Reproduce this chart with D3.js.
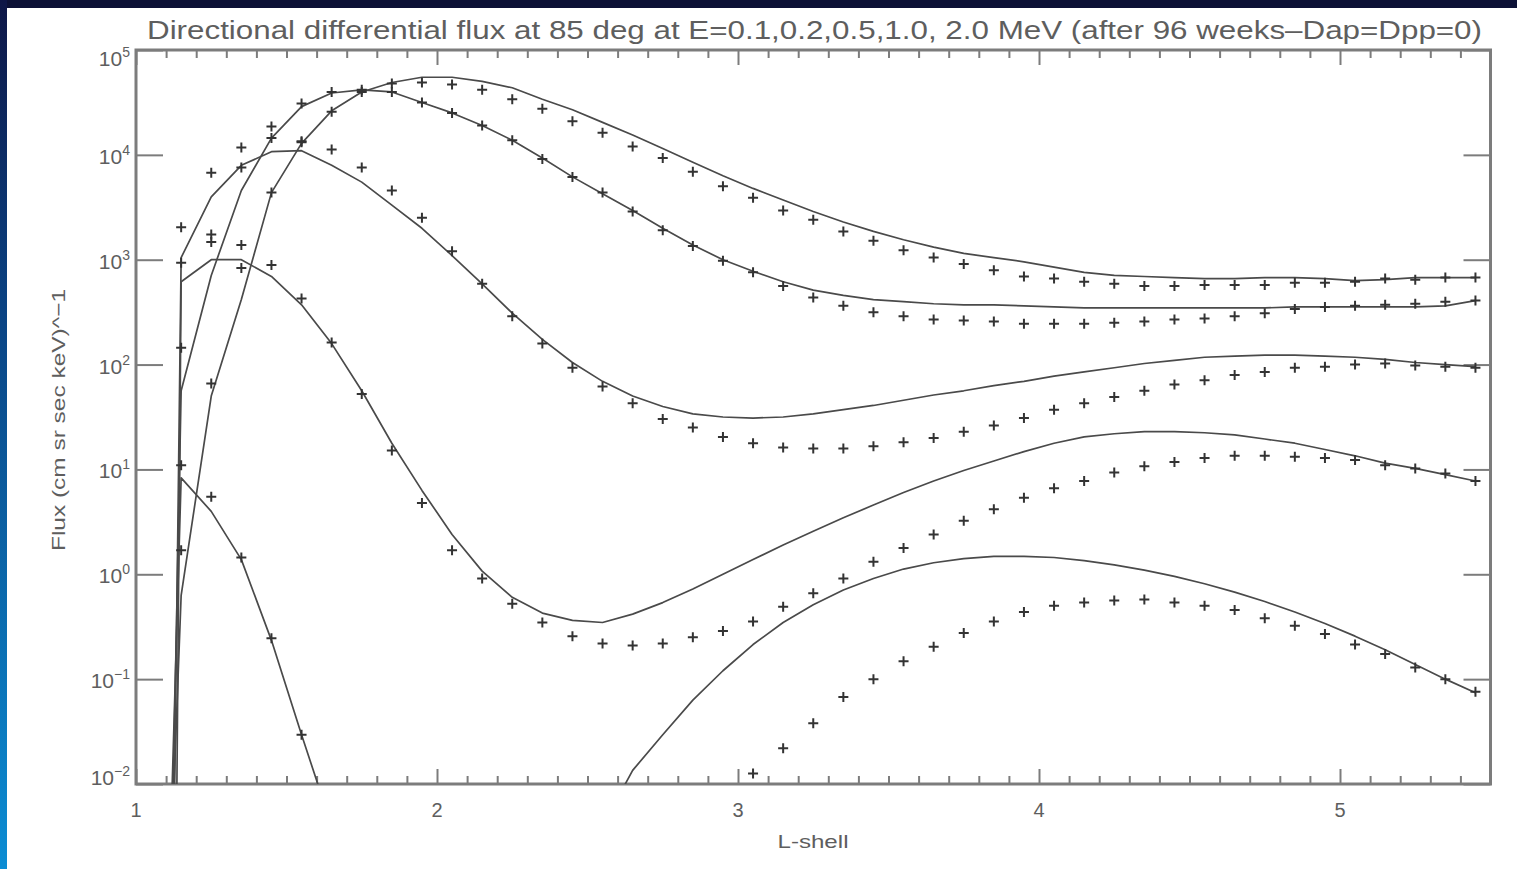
<!DOCTYPE html>
<html>
<head>
<meta charset="utf-8">
<script src="https://cdn.jsdelivr.net/npm/d3@7"></script>
<style>
  html, body { margin: 0; padding: 0; background: #0c1136; }
  svg { display: block; }
</style>
</head>
<body>
<svg id="chart" width="1517" height="869"></svg>
<script>
// L-shell values where the points (and model grid) sit
const lShell = [1.15, 1.25, 1.35, 1.45, 1.55, 1.65, 1.75, 1.85, 1.95, 2.05,
  2.15, 2.25, 2.35, 2.45, 2.55, 2.65, 2.75, 2.85, 2.95, 3.05,
  3.15, 3.25, 3.35, 3.45, 3.55, 3.65, 3.75, 3.85, 3.95, 4.05,
  4.15, 4.25, 4.35, 4.45, 4.55, 4.65, 4.75, 4.85, 4.95, 5.05,
  5.15, 5.25, 5.35, 5.45];

const energies = ['0.1 MeV', '0.2 MeV', '0.5 MeV', '1.0 MeV', '2.0 MeV'];

// model curves, log10 of flux (null = far below the axis)
const model01 = [1.75, 2.85, 3.66, 4.16, 4.46, 4.59, 4.62, 4.60, 4.50, 4.40,
  4.28, 4.14, 3.97, 3.79, 3.63, 3.47, 3.30, 3.14, 3.00, 2.89,
  2.79, 2.71, 2.66, 2.62, 2.60, 2.58, 2.57, 2.57, 2.56, 2.55,
  2.54, 2.54, 2.54, 2.54, 2.54, 2.54, 2.54, 2.55, 2.55, 2.55,
  2.55, 2.55, 2.56, 2.61];
const model02 = [-0.20, 1.70, 2.62, 3.64, 4.11, 4.42, 4.60, 4.69, 4.74, 4.74,
  4.70, 4.64, 4.53, 4.43, 4.31, 4.19, 4.06, 3.93, 3.80, 3.68,
  3.57, 3.46, 3.36, 3.27, 3.19, 3.12, 3.06, 3.02, 2.98, 2.93,
  2.88, 2.85, 2.84, 2.83, 2.82, 2.82, 2.83, 2.83, 2.82, 2.80,
  2.81, 2.83, 2.83, 2.83];
const model05 = [3.02, 3.60, 3.90, 4.03, 4.04, 3.90, 3.74, 3.52, 3.30, 3.04,
  2.77, 2.49, 2.24, 2.02, 1.84, 1.70, 1.60, 1.53, 1.50, 1.49,
  1.50, 1.53, 1.57, 1.61, 1.66, 1.71, 1.75, 1.80, 1.84, 1.89,
  1.93, 1.97, 2.01, 2.04, 2.07, 2.08, 2.09, 2.09, 2.08, 2.07,
  2.05, 2.02, 2.00, 1.98];
const model10 = [2.79, 3.00, 3.00, 2.84, 2.57, 2.20, 1.75, 1.25, 0.80, 0.38,
  0.03, -0.22, -0.37, -0.44, -0.46, -0.38, -0.27, -0.14, 0.00, 0.14,
  0.28, 0.41, 0.54, 0.66, 0.78, 0.89, 0.99, 1.08, 1.17, 1.25,
  1.31, 1.34, 1.36, 1.36, 1.35, 1.33, 1.29, 1.25, 1.19, 1.13,
  1.06, 1.01, 0.95, 0.89];
const model20 = [0.92, 0.60, 0.14, -0.63, -1.53, -2.40, null, null, null, null,
  null, null, null, null, -2.40, -1.87, -1.53, -1.20, -0.92, -0.67,
  -0.46, -0.29, -0.15, -0.04, 0.05, 0.11, 0.15, 0.17, 0.17, 0.16,
  0.13, 0.09, 0.04, -0.02, -0.09, -0.17, -0.26, -0.36, -0.47, -0.59,
  -0.72, -0.86, -1.00, -1.13];

// where each model curve leaves the bottom of the grid (log10 flux, off scale)
const modelStartL = [1.11, 1.10, 1.12, 1.13, 1.10];
const modelStartLog = [-4, -4, -4, -4, -4];

// plotted '+' points, log10 of flux
const points01 = [2.16, 3.24, 3.88, 4.16, 4.49, 4.60, 4.62, 4.60, 4.50, 4.40,
  4.28, 4.14, 3.96, 3.79, 3.64, 3.46, 3.28, 3.13, 2.99, 2.88,
  2.75, 2.64, 2.56, 2.50, 2.46, 2.43, 2.42, 2.41, 2.39, 2.39,
  2.39, 2.40, 2.41, 2.43, 2.44, 2.46, 2.49, 2.53, 2.55, 2.56,
  2.57, 2.58, 2.60, 2.61];
const points02 = [0.23, 1.82, 3.14, 3.64, 4.13, 4.41, 4.60, 4.68, 4.69, 4.67,
  4.62, 4.53, 4.44, 4.32, 4.21, 4.08, 3.97, 3.84, 3.70, 3.59,
  3.47, 3.38, 3.27, 3.18, 3.09, 3.02, 2.96, 2.90, 2.84, 2.82,
  2.79, 2.77, 2.75, 2.75, 2.76, 2.76, 2.76, 2.78, 2.78, 2.79,
  2.82, 2.81, 2.83, 2.83];
const points05 = [3.31, 3.83, 4.07, 4.27, 4.12, 4.05, 3.88, 3.66, 3.40, 3.08,
  2.77, 2.46, 2.20, 1.97, 1.79, 1.63, 1.48, 1.40, 1.31, 1.25,
  1.21, 1.20, 1.20, 1.22, 1.26, 1.30, 1.36, 1.42, 1.49, 1.57,
  1.63, 1.69, 1.75, 1.81, 1.85, 1.90, 1.93, 1.97, 1.98, 2.00,
  2.01, 1.99, 1.98, 1.97];
const points10 = [2.97, 3.17, 2.92, 2.95, 2.63, 2.21, 1.72, 1.18, 0.68, 0.23,
  -0.04, -0.28, -0.46, -0.59, -0.66, -0.68, -0.66, -0.60, -0.54, -0.45,
  -0.31, -0.18, -0.04, 0.12, 0.25, 0.38, 0.51, 0.62, 0.73, 0.82,
  0.89, 0.97, 1.03, 1.07, 1.11, 1.13, 1.13, 1.12, 1.11, 1.09,
  1.04, 1.01, 0.96, 0.89];
const points20 = [1.04, 0.74, 0.16, -0.61, -1.53, null, null, null, null, null,
  null, null, null, null, null, null, null, null, null, -1.90,
  -1.66, -1.42, -1.17, -1.00, -0.83, -0.69, -0.56, -0.45, -0.36, -0.30,
  -0.27, -0.25, -0.24, -0.27, -0.30, -0.34, -0.42, -0.49, -0.57, -0.67,
  -0.76, -0.89, -1.00, -1.12];

const models = [model01, model02, model05, model10, model20];
const pointSets = [points01, points02, points05, points10, points20];

// axis ticks
const xMajorTicks = [1, 2, 3, 4, 5];
const xTickLabels = ['1', '2', '3', '4', '5'];
const yTicks = [1e-2, 1e-1, 1e0, 1e1, 1e2, 1e3, 1e4, 1e5];
const yTickExps = ['\u22122', '\u22121', '0', '1', '2', '3', '4', '5'];

const titleText = 'Directional differential flux at 85 deg at E=0.1,0.2,0.5,1.0, 2.0 MeV (after 96 weeks\u2013Dap=Dpp=0)';

// layout
const W = 1517, H = 869;
const plot = { left: 136, right: 1490.5, top: 50, bottom: 784 };
const axisColor = '#7c7c7c';
const inkColor = '#4a4a4a';
const textColor = '#5e5e5e';
const font = '"Liberation Sans", Arial, sans-serif';

const svg = d3.select('#chart');

// slide background: dark top band, blue gradient strip on the left
const defs = svg.append('defs');
const grad = defs.append('linearGradient')
  .attr('id', 'leftStrip').attr('x1', 0).attr('y1', 0).attr('x2', 0).attr('y2', 1);
grad.append('stop').attr('offset', '0%').attr('stop-color', '#0e1646');
grad.append('stop').attr('offset', '35%').attr('stop-color', '#0a4282');
grad.append('stop').attr('offset', '100%').attr('stop-color', '#0b8dd4');

svg.append('rect').attr('width', W).attr('height', H).attr('fill', '#0c1136');
svg.append('rect').attr('x', 0).attr('y', 0).attr('width', 7).attr('height', H)
  .attr('fill', 'url(#leftStrip)');
svg.append('rect').attr('x', 7).attr('y', 8).attr('width', W - 7).attr('height', H - 8)
  .attr('fill', '#fff');

defs.append('clipPath').attr('id', 'plotClip')
  .append('rect')
  .attr('x', plot.left).attr('y', plot.top)
  .attr('width', plot.right - plot.left).attr('height', plot.bottom - plot.top);

// scales
const x = d3.scaleLinear().domain([1, 5.5]).range([plot.left, plot.right]);
const y = d3.scaleLog().domain([1e-2, 1e5]).range([plot.bottom, plot.top]);

// ---- axes ----
function styleAxis(g) {
  g.select('.domain').remove();
  g.selectAll('.tick line').attr('stroke', axisColor).attr('stroke-width', 2);
  g.selectAll('.tick text').remove();
}

// minor x ticks every 0.1, major at integers; bottom and top
const xMinor = x.ticks(45).filter(v => !xMajorTicks.includes(Math.round(v * 10) / 10));
svg.append('g').attr('transform', `translate(0,${plot.bottom})`)
  .call(d3.axisBottom(x).tickValues(xMinor).tickSize(-8).tickSizeOuter(0)).call(styleAxis);
svg.append('g').attr('transform', `translate(0,${plot.bottom})`)
  .call(d3.axisBottom(x).tickValues(xMajorTicks).tickSize(-15).tickSizeOuter(0)).call(styleAxis);
svg.append('g').attr('transform', `translate(0,${plot.top})`)
  .call(d3.axisTop(x).tickValues(xMinor).tickSize(-8).tickSizeOuter(0)).call(styleAxis);
svg.append('g').attr('transform', `translate(0,${plot.top})`)
  .call(d3.axisTop(x).tickValues(xMajorTicks).tickSize(-15).tickSizeOuter(0)).call(styleAxis);

// y decade ticks on both sides
svg.append('g').attr('transform', `translate(${plot.left},0)`)
  .call(d3.axisLeft(y).tickValues(yTicks).tickSize(-27).tickSizeOuter(0)).call(styleAxis);
svg.append('g').attr('transform', `translate(${plot.right},0)`)
  .call(d3.axisRight(y).tickValues(yTicks).tickSize(-27).tickSizeOuter(0)).call(styleAxis);

// frame
svg.append('rect')
  .attr('x', plot.left).attr('y', plot.top)
  .attr('width', plot.right - plot.left).attr('height', plot.bottom - plot.top)
  .attr('fill', 'none').attr('stroke', axisColor).attr('stroke-width', 3);

// x tick labels
svg.append('g').selectAll('text')
  .data(xMajorTicks)
  .join('text')
  .attr('x', d => x(d))
  .attr('y', 817)
  .attr('text-anchor', 'middle')
  .attr('font-family', font).attr('font-size', 20)
  .attr('fill', textColor)
  .text((d, i) => xTickLabels[i]);

// y tick labels 10^n (end labels pulled inside the frame, as in the original)
const yLab = svg.append('g').selectAll('text')
  .data(yTicks)
  .join('text')
  .attr('x', 130)
  .attr('y', d => Math.min(Math.max(y(d) + 1, 58), 777) + 8)
  .attr('text-anchor', 'end')
  .attr('font-family', font)
  .attr('fill', textColor);
yLab.append('tspan').attr('font-size', 21).text('10');
yLab.append('tspan').attr('font-size', 14).attr('dy', -9).text((d, i) => yTickExps[i]);

// titles
svg.append('text')
  .attr('x', 147).attr('y', 39)
  .attr('font-family', font).attr('font-size', 25)
  .attr('fill', textColor)
  .attr('textLength', 1335).attr('lengthAdjust', 'spacingAndGlyphs')
  .text(titleText);

svg.append('text')
  .attr('x', 813).attr('y', 848)
  .attr('text-anchor', 'middle')
  .attr('font-family', font).attr('font-size', 19)
  .attr('fill', textColor)
  .attr('textLength', 71).attr('lengthAdjust', 'spacingAndGlyphs')
  .text('L-shell');

svg.append('text')
  .attr('transform', 'translate(65,420) rotate(-90)')
  .attr('text-anchor', 'middle')
  .attr('font-family', font).attr('font-size', 19)
  .attr('fill', textColor)
  .attr('textLength', 262).attr('lengthAdjust', 'spacingAndGlyphs')
  .text('Flux (cm sr sec keV)^\u22121');

// ---- data ----
const plotArea = svg.append('g').attr('clip-path', 'url(#plotClip)');

const line = d3.line()
  .defined(d => d.logF != null)
  .x(d => x(d.L))
  .y(d => y(Math.pow(10, d.logF)));

models.forEach((m, k) => {
  const pts = [{ L: modelStartL[k], logF: modelStartLog[k] }]
    .concat(lShell.map((L, i) => ({ L, logF: m[i] })));
  plotArea.append('path')
    .datum(pts)
    .attr('class', 'model e' + k)
    .attr('fill', 'none')
    .attr('stroke', inkColor)
    .attr('stroke-width', 1.7)
    .attr('stroke-linejoin', 'round')
    .attr('d', line);
});

pointSets.forEach((p, k) => {
  const pts = lShell.map((L, i) => ({ L, logF: p[i] })).filter(d => d.logF != null);
  plotArea.append('g').attr('class', 'points e' + k)
    .selectAll('path')
    .data(pts)
    .join('path')
    .attr('transform', d => `translate(${x(d.L)},${y(Math.pow(10, d.logF))})`)
    .attr('d', 'M-5,0H5M0,-5V5')
    .attr('stroke', '#333')
    .attr('stroke-width', 2)
    .attr('fill', 'none')
    .append('title').text(d => energies[k] + '  L=' + d.L);
});
</script>
</body>
</html>
